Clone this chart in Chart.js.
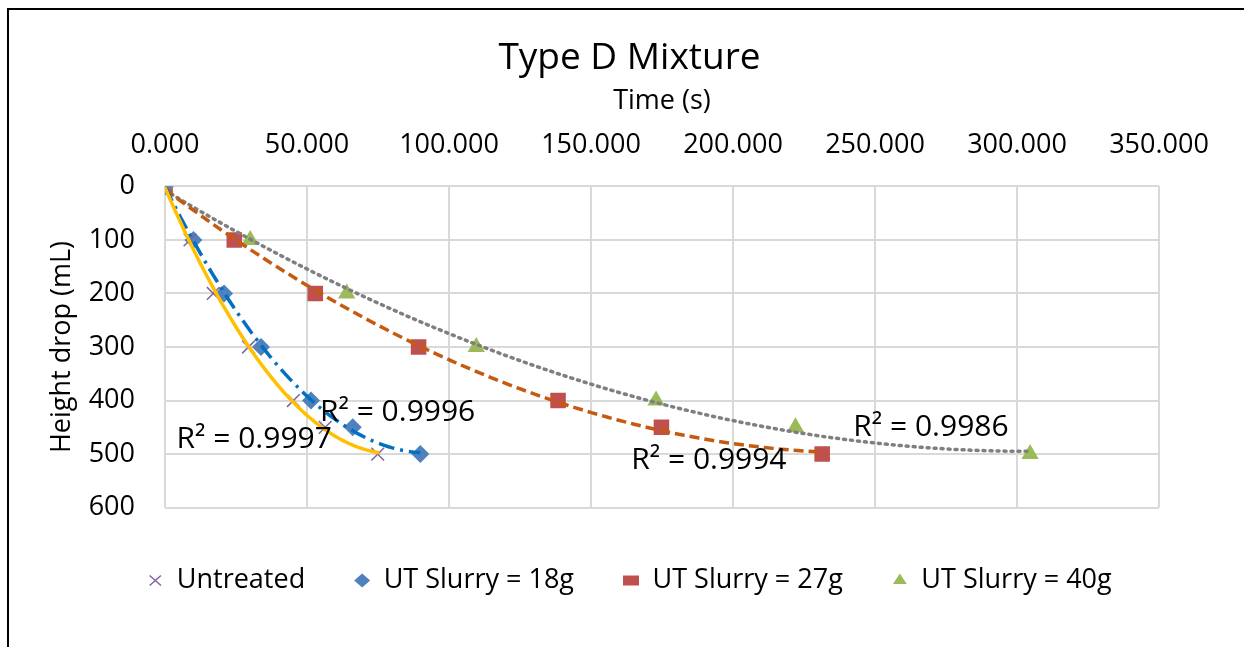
<!DOCTYPE html>
<html>
<head>
<meta charset="utf-8">
<script src="https://cdn.jsdelivr.net/npm/chart.js@4.4.1/dist/chart.umd.min.js"></script>
<style>
html,body{margin:0;padding:0;background:#fff;}
#wrap{position:absolute;left:0;top:0;width:1244px;height:647px;}
#frame{position:absolute;left:7px;top:8px;width:1250px;height:660px;border-top:2px solid #000;border-left:2px solid #000;pointer-events:none;}
</style>
</head>
<body>
<div id="wrap"><canvas id="c" width="1244" height="647"></canvas></div>
<div id="frame"></div>
<script>
// ---- data ----
const heights = [0, 100, 200, 300, 400, 450, 500];
const timeUntreated = [0, 8.8, 17.0, 29.4, 45.2, 56.4, 74.9];
const time18g = [0, 10.0, 20.8, 33.8, 51.4, 66.1, 89.9];
const time27g = [0, 24.4, 52.9, 89.3, 138.4, 174.8, 231.4];
const time40g = [0, 30.0, 64.0, 109.6, 172.9, 222.0, 304.6];
const seriesNames = ["Untreated", "UT Slurry = 18g", "UT Slurry = 27g", "UT Slurry = 40g"];
const r2Labels = ["R² = 0.9997", "R² = 0.9996", "R² = 0.9994", "R² = 0.9986"];
const r2AnchorX = [31.4, 81.9, 191.5, 269.7];
const r2AnchorY = [473.6, 422.6, 511.3, 451.0];
const xTicks = [0, 50, 100, 150, 200, 250, 300, 350];
const yTicks = [0, 100, 200, 300, 400, 500, 600];

const FONT = "'Open Sans', Lato, sans-serif";
const FS = 27;

function toPts(xs, ys){ return xs.map((x,i)=>({x:x, y:ys[i]})); }

// quadratic least-squares fit y = a x^2 + b x + c (Excel polynomial trendline, order 2)
function polyFit2(xs, ys){
  let S=[0,0,0,0,0], T=[0,0,0];
  for(let i=0;i<xs.length;i++){
    const x=xs[i], y=ys[i];
    let p=1;
    for(let k=0;k<5;k++){ S[k]+=p; if(k<3) T[k]+=p*y; p*=x; }
  }
  const M=[[S[0],S[1],S[2],T[0]],[S[1],S[2],S[3],T[1]],[S[2],S[3],S[4],T[2]]];
  for(let i=0;i<3;i++){
    let piv=i; for(let r=i+1;r<3;r++) if(Math.abs(M[r][i])>Math.abs(M[piv][i])) piv=r;
    [M[i],M[piv]]=[M[piv],M[i]];
    for(let r=0;r<3;r++){ if(r===i) continue; const f=M[r][i]/M[i][i]; for(let k=i;k<4;k++) M[r][k]-=f*M[i][k]; }
  }
  const c=M[0][3]/M[0][0], b=M[1][3]/M[1][1], a=M[2][3]/M[2][2];
  return x=>c+b*x+a*x*x;
}
function trend(xs, ys){
  const f=polyFit2(xs, ys); const lo=Math.min(...xs), hi=Math.max(...xs);
  const out=[]; const n=80;
  for(let i=0;i<=n;i++){ const x=lo+(hi-lo)*i/n; out.push({x:x, y:f(x)}); }
  return out;
}

const allTimes=[timeUntreated,time18g,time27g,time40g];
const markerColors=["#8064A2","#4F81BD","#C0504D","#9BBB59"];
const markerStyles=["crossRot","rectRot","rect","triangle"];
const markerRadius=[9,9,11,10];
const trendColors=["#FFC000","#0070C0","#C55A11","#7F7F7F"];
const trendDash=[[],[16,6,3,6],[10,5],[2,5]];
const trendCap=["round","butt","butt","round"];

const datasets=[];
allTimes.forEach((t,i)=>{
  datasets.push({
    label: seriesNames[i], data: toPts(t, heights), showLine:false,
    pointStyle: markerStyles[i], pointRadius: markerRadius[i], pointHoverRadius: markerRadius[i],
    backgroundColor: markerColors[i], borderColor: markerColors[i],
    pointBorderWidth: i===0?1.5:0, order: 2
  });
});
allTimes.forEach((t,i)=>{
  datasets.push({
    label: "trend"+i, isTrend:true, data: trend(t, heights), showLine:true,
    pointRadius:0, borderColor: trendColors[i], borderWidth: 3.5,
    borderDash: trendDash[i], borderCapStyle: trendCap[i], tension:0, fill:false, order: 1
  });
});

const r2Plugin={
  id:"r2",
  afterDatasetsDraw(chart){
    const {ctx, scales:{x,y}}=chart;
    ctx.save();
    ctx.font="30px "+FONT; ctx.fillStyle="#000"; ctx.textAlign="center"; ctx.textBaseline="middle";
    r2Labels.forEach((s,i)=>{ ctx.fillText(s, x.getPixelForValue(r2AnchorX[i]), y.getPixelForValue(r2AnchorY[i])); });
    ctx.restore();
  }
};
// center title and legend on the whole canvas (as in the original), not on the padded box
const centerPlugin={
  id:"centerShift",
  afterLayout(chart){
    const d=27;
    if(chart.legend){chart.legend.left+=d; chart.legend.right+=d;}
    if(chart.titleBlock){chart.titleBlock.left+=d; chart.titleBlock.right+=d;}
  }
};
const bgPlugin={id:"bg",beforeDraw(chart){const c=chart.ctx;c.save();c.fillStyle="#fff";c.fillRect(0,0,chart.width,chart.height);c.restore();}};

new Chart(document.getElementById("c"),{
  type:"scatter",
  data:{datasets},
  options:{
    responsive:false, animation:false,
    layout:{padding:{left:46,right:85,top:36,bottom:43}},
    plugins:{
      title:{display:true,text:"Type D Mixture",color:"#000",font:{family:FONT,size:37,weight:"normal"},padding:{top:0,bottom:0}},
      legend:{position:"bottom",
        title:{display:true,text:"",font:{size:2},padding:{top:4,bottom:4}},
        labels:{
        filter:(item,data)=>!data.datasets[item.datasetIndex].isTrend,
        usePointStyle:true, boxHeight:10, pointStyleWidth:16, color:"#000", padding:49,
        font:{family:FONT,size:FS}
      }},
      tooltip:{enabled:false}
    },
    scales:{
      x:{type:"linear",position:"top",min:0,max:350,
        afterBuildTicks:(ax)=>{ax.ticks=xTicks.map(v=>({value:v}));},
        afterFit:(ax)=>{ax.height=106;},
        ticks:{color:"#000",font:{family:FONT,size:FS},padding:25,callback:v=>Number(v).toFixed(3),maxRotation:0},
        grid:{color:"#D9D9D9",lineWidth:2,drawTicks:false},border:{display:false},
        title:{display:true,text:"Time (s)",color:"#000",font:{family:FONT,size:FS},padding:{top:5,bottom:0}}
      },
      y:{type:"linear",reverse:true,min:0,max:600,
        afterBuildTicks:(ax)=>{ax.ticks=yTicks.map(v=>({value:v}));},
        afterFit:(ax)=>{ax.width=119;},
        ticks:{color:"#000",font:{family:FONT,size:FS},padding:30},
        grid:{color:"#D9D9D9",lineWidth:2,drawTicks:false},border:{display:false},
        title:{display:true,text:"Height drop (mL)",color:"#000",font:{family:FONT,size:FS},padding:{top:0,bottom:4}}
      }
    }
  },
  plugins:[bgPlugin,centerPlugin,r2Plugin]
});
</script>
</body>
</html>
